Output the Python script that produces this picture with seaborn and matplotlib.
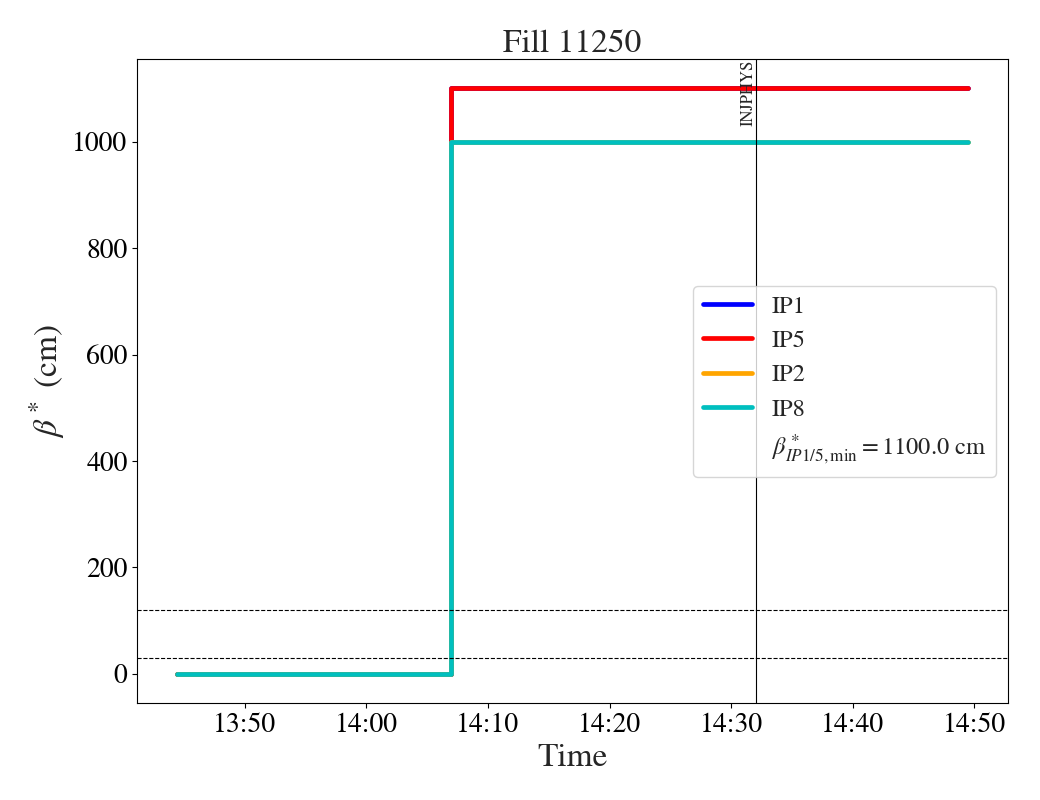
import numpy as np
import pandas as pd
import matplotlib
matplotlib.use("Agg")
import matplotlib.pyplot as plt
import matplotlib.dates as mdates
import seaborn as sns

# ---- data ----
times = ["2025-10-20 13:44:25", "2025-10-20 14:07:00", "2025-10-20 14:49:30"]
ip1 = [0.0, 1100.0, 1100.0]
ip5 = [0.0, 1100.0, 1100.0]
ip2 = [0.0, 1000.0, 1000.0]
ip8 = [0.0, 1000.0, 1000.0]
series_names = ["IP1", "IP5", "IP2", "IP8"]
series_colors = ["b", "r", "orange", "c"]
hlines = [30, 120]
event_time = "2025-10-20 14:32:05"
event_label = "INJPHYS"
beta_min = 1100.0
title = "Fill 11250"

sns.set_style("ticks")
plt.rcParams["font.family"] = ["STIXGeneral", "DejaVu Serif"]
plt.rcParams["mathtext.fontset"] = "stix"
plt.rcParams["axes.edgecolor"] = "black"
plt.rcParams["xtick.color"] = "black"
plt.rcParams["ytick.color"] = "black"

t = pd.to_datetime(times)
df = pd.DataFrame({"time": t, "IP1": ip1, "IP5": ip5, "IP2": ip2, "IP8": ip8})

fig = plt.figure(figsize=(10.4, 8), dpi=100)
ax = fig.add_axes([0.132, 0.121, 0.837, 0.805])

for name, col in zip(series_names, series_colors):
    sns.lineplot(data=df, x="time", y=name, ax=ax, color=col, lw=3.4,
                 drawstyle="steps-post", label=name)

for h in hlines:
    ax.axhline(h, color="black", ls="--", lw=0.8)

ev = pd.to_datetime(event_time)
ax.axvline(ev, color="black", lw=0.8)
ax.text(ev, 1.0, event_label, rotation=90, ha="right", va="top",
        fontsize=12, transform=ax.get_xaxis_transform())

ax.plot([], [], " ", label=r"$\beta^*_{IP1/5,\mathrm{min}} = $" + f"{beta_min:.1f} cm")

ax.xaxis.set_major_locator(mdates.MinuteLocator(byminute=range(0, 60, 10)))
ax.xaxis.set_major_formatter(mdates.DateFormatter("%H:%M"))
ax.tick_params(axis="both", labelsize=20)

ax.set_title(title, fontsize=24, pad=4)
ax.set_xlabel("Time", fontsize=24)
ax.set_ylabel(r"$\beta^*$ (cm)", fontsize=24)
ax.legend(loc="center right", fontsize=17.6)

fig.savefig("out.png", dpi=100)
